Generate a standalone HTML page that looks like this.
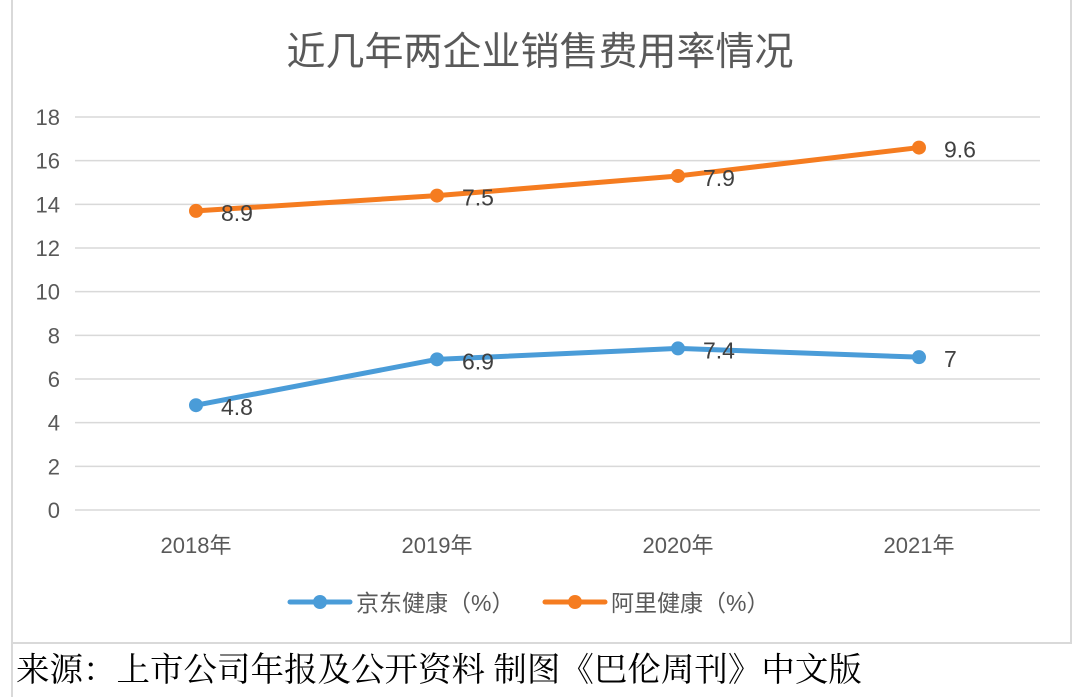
<!DOCTYPE html>
<html><head><meta charset="utf-8"><style>
body{margin:0;background:#fff;width:1080px;height:697px;overflow:hidden;font-family:"Liberation Sans","Noto Sans CJK SC",sans-serif}
svg{position:absolute;left:0;top:0}
</style></head><body>
<svg width="1080" height="697" id="c">
<rect x="12" y="-2" width="1059" height="645" fill="#fff" stroke="#d9d9d9" stroke-width="2"/>
<line x1="12" y1="643" x2="12" y2="697" stroke="#d9d9d9" stroke-width="2"/>
<text x="540" y="65" text-anchor="middle" font-size="39" fill="#595959">近几年两企业销售费用率情况</text>
<text x="16" y="681" font-size="33.5" fill="#000" font-family="'Liberation Serif','Noto Serif CJK SC',serif">来源：上市公司年报及公开资料 制图《巴伦周刊》中文版</text>
<g id="grid"></g><g id="series"></g>
<g>
<line x1="290" y1="602" x2="350" y2="602" stroke="#4a9cd8" stroke-width="5" stroke-linecap="round"/>
<circle cx="320" cy="602" r="7" fill="#4a9cd8"/>
<text x="356" y="611" font-size="23" fill="#595959">京东健康（%）</text>
<line x1="545" y1="602" x2="605" y2="602" stroke="#f57c20" stroke-width="5" stroke-linecap="round"/>
<circle cx="575" cy="602" r="7" fill="#f57c20"/>
<text x="611" y="611" font-size="23" fill="#595959">阿里健康（%）</text>
</g>
</svg>
<script>
const categories=["2018年","2019年","2020年","2021年"];
const jdValues=[4.8,6.9,7.4,7];
const aliValues=[8.9,7.5,7.9,9.6];
const yTicks=[0,2,4,6,8,10,12,14,16,18];
const NS="http://www.w3.org/2000/svg";
const y=v=>510-v*(393/18);
const x=i=>196+i*241;
function mk(t,a,p){const e=document.createElementNS(NS,t);for(const k in a)e.setAttribute(k,a[k]);p.appendChild(e);return e;}
const g=document.getElementById('grid'),s=document.getElementById('series');
yTicks.forEach(t=>{
 const l=mk('line',{x1:75,x2:1040,y1:y(t),y2:y(t),stroke:'#d9d9d9','stroke-width':1.5},g);
 
 
 const tx=mk('text',{x:60,y:y(t)+8,'text-anchor':'end','font-size':22,fill:'#595959'},g);
 tx.textContent=t;
 
 
});
categories.forEach((c,i)=>{
 const tx=mk('text',{x:x(i),y:553,'text-anchor':'middle','font-size':22,fill:'#595959'},g);
 tx.textContent=c;
 
 
});
const stacked=jdValues.map((v,i)=>v+aliValues[i]);
function draw(vals,labels,color,name){
 const p=mk('polyline',{points:vals.map((v,i)=>x(i)+','+y(v)).join(' '),fill:'none',stroke:color,'stroke-width':5,'stroke-linejoin':'round','stroke-linecap':'round'},s);
 
 
 vals.forEach((v,i)=>{
  const c=mk('circle',{cx:x(i),cy:y(v),r:7,fill:color},s);
  
  
  const t=mk('text',{x:x(i)+25,y:y(v)+10,'font-size':23,fill:'#404040'},s);
  t.textContent=labels[i];
  
  
 });
}
draw(jdValues,jdValues,'#4a9cd8','jd');
draw(stacked,aliValues,'#f57c20','ali');
</script>
</body></html>
